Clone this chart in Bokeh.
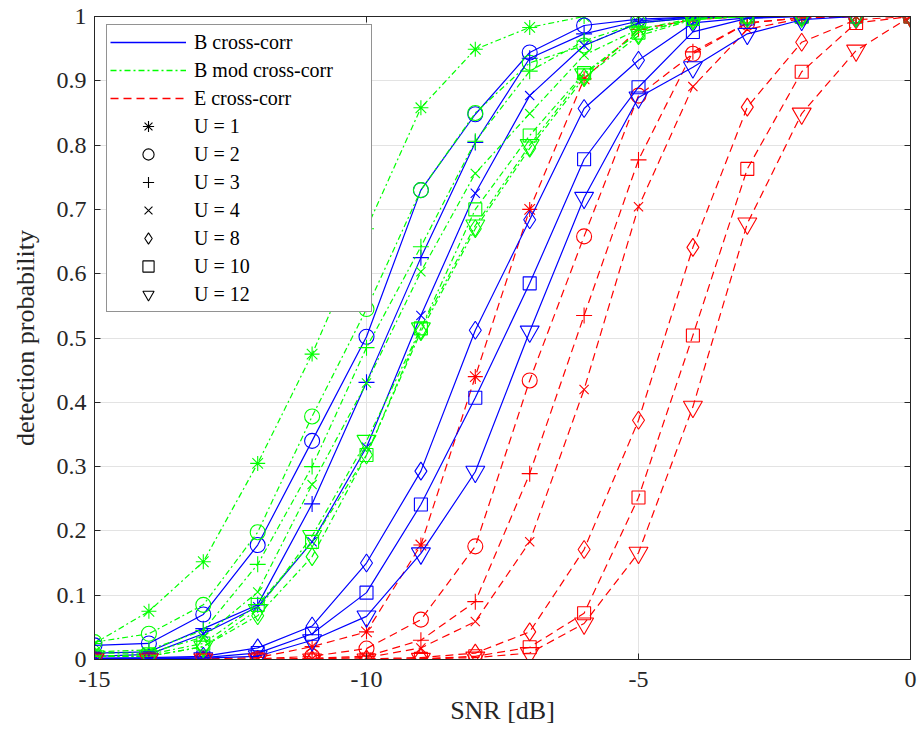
import numpy as np
from bokeh.plotting import figure
from bokeh.models import Legend, LegendItem, LinearAxis, FixedTicker, Range1d
from bokeh.embed import file_html
from bokeh.resources import INLINE

snr = [-15, -14, -13, -12, -11, -10, -9, -8, -7, -6, -5, -4, -3, -2, -1, 0]
u_labels = ["U = 1", "U = 2", "U = 3", "U = 4", "U = 8", "U = 10", "U = 12"]

# B cross-corr (no visible U = 1 curve in the reference)
b_u1 = None
b_u2 = [0.022, 0.025, 0.070, 0.178, 0.340, 0.502, 0.730, 0.848, 0.944, 0.986, 0.996, 0.999, 1.0, 1.0, 1.0, 1.0]
b_u3 = [0.010, 0.012, 0.048, 0.085, 0.242, 0.431, 0.625, 0.804, 0.935, 0.973, 0.993, 0.999, 1.0, 1.0, 1.0, 1.0]
b_u4 = [0.005, 0.008, 0.040, 0.082, 0.183, 0.330, 0.535, 0.725, 0.877, 0.955, 0.990, 0.998, 1.0, 1.0, 1.0, 1.0]
b_u8 = [0.002, 0.003, 0.005, 0.018, 0.052, 0.150, 0.293, 0.512, 0.684, 0.857, 0.932, 0.990, 0.998, 1.0, 1.0, 1.0]
b_u10 = [0.001, 0.002, 0.003, 0.010, 0.040, 0.104, 0.241, 0.407, 0.585, 0.778, 0.890, 0.976, 0.997, 1.0, 1.0, 1.0]
b_u12 = [0.001, 0.001, 0.002, 0.005, 0.030, 0.067, 0.165, 0.292, 0.510, 0.718, 0.874, 0.921, 0.973, 0.995, 1.0, 1.0]

# B mod cross-corr
m_u1 = [0.025, 0.075, 0.152, 0.305, 0.475, 0.670, 0.858, 0.949, 0.983, 1.0, 1.0, 1.0, 1.0, 1.0, 1.0, 1.0]
m_u2 = [0.027, 0.040, 0.085, 0.198, 0.378, 0.545, 0.730, 0.850, 0.928, 0.955, 0.990, 0.998, 1.0, 1.0, 1.0, 1.0]
m_u3 = [0.012, 0.015, 0.045, 0.148, 0.300, 0.485, 0.642, 0.806, 0.915, 0.962, 0.990, 0.998, 1.0, 1.0, 1.0, 1.0]
m_u4 = [0.010, 0.010, 0.035, 0.105, 0.272, 0.430, 0.603, 0.756, 0.849, 0.940, 0.980, 0.997, 1.0, 1.0, 1.0, 1.0]
m_u8 = [0.005, 0.005, 0.020, 0.068, 0.160, 0.318, 0.510, 0.670, 0.795, 0.905, 0.970, 0.995, 1.0, 1.0, 1.0, 1.0]
m_u10 = [0.005, 0.008, 0.025, 0.085, 0.183, 0.318, 0.515, 0.700, 0.815, 0.912, 0.975, 0.996, 1.0, 1.0, 1.0, 1.0]
m_u12 = [0.005, 0.005, 0.020, 0.077, 0.192, 0.340, 0.515, 0.675, 0.800, 0.910, 0.975, 0.996, 1.0, 1.0, 1.0, 1.0]

# E cross-corr
e_u1 = [0.0, 0.0, 0.001, 0.003, 0.020, 0.043, 0.178, 0.440, 0.700, 0.903, 0.980, 0.995, 1.0, 1.0, 1.0, 1.0]
e_u2 = [0.0, 0.0, 0.0, 0.001, 0.005, 0.017, 0.062, 0.176, 0.434, 0.658, 0.877, 0.942, 0.990, 0.998, 1.0, 1.0]
e_u3 = [0.0, 0.0, 0.0, 0.0, 0.002, 0.005, 0.030, 0.090, 0.289, 0.535, 0.777, 0.945, 0.990, 0.998, 1.0, 1.0]
e_u4 = [0.0, 0.0, 0.0, 0.0, 0.001, 0.003, 0.018, 0.059, 0.183, 0.420, 0.704, 0.891, 0.980, 0.997, 1.0, 1.0]
e_u8 = [0.0, 0.0, 0.0, 0.0, 0.0, 0.001, 0.003, 0.010, 0.043, 0.171, 0.372, 0.641, 0.859, 0.960, 0.995, 1.0]
e_u10 = [0.0, 0.0, 0.0, 0.0, 0.0, 0.0, 0.001, 0.005, 0.019, 0.072, 0.252, 0.504, 0.763, 0.914, 0.990, 1.0]
e_u12 = [0.0, 0.0, 0.0, 0.0, 0.0, 0.0, 0.001, 0.003, 0.010, 0.056, 0.166, 0.393, 0.678, 0.849, 0.947, 1.0]

x_ticks = [-15, -10, -5, 0]
y_ticks = [0, 0.1, 0.2, 0.3, 0.4, 0.5, 0.6, 0.7, 0.8, 0.9, 1]
y_tick_labels = ["0", "0.1", "0.2", "0.3", "0.4", "0.5", "0.6", "0.7", "0.8", "0.9", "1"]
x_tick_labels = ["-15", "-10", "-5", "0"]

families = [
    ("B cross-corr", "#0000ff", "solid", [b_u1, b_u2, b_u3, b_u4, b_u8, b_u10, b_u12]),
    ("B mod cross-corr", "#00ff00", "6 3 2 3", [m_u1, m_u2, m_u3, m_u4, m_u8, m_u10, m_u12]),
    ("E cross-corr", "#ff0000", "8 5", [e_u1, e_u2, e_u3, e_u4, e_u8, e_u10, e_u12]),
]
markers = ["asterisk", "circle", "cross", "x", "diamond", "square", "inverted_triangle"]
msizes = [15, 15, 16, 13, 18, 13, 19]

FONT = "Liberation Serif"
DARK = "#262626"

p = figure(frame_width=816, frame_height=643,
           x_range=Range1d(-15, 0), y_range=Range1d(0, 1),
           output_backend="svg", toolbar_location=None,
           min_border_left=94, min_border_top=16, min_border_right=9,
           min_border_bottom=10)
p.background_fill_color = "white"
p.outline_line_color = DARK

# data
for ui in range(7):
    for name, col, dash, series in families:
        if series[ui] is None:
            continue
        p.line(snr, series[ui], line_color=col, line_dash=dash, line_width=1.2)
        p.scatter(snr, series[ui], marker=markers[ui], size=msizes[ui],
                  line_color=col, fill_color=None, line_width=1.1)

# axes
xt = FixedTicker(ticks=x_ticks)
yt = FixedTicker(ticks=y_ticks)
p.xaxis.ticker = xt
p.yaxis.ticker = yt
p.xaxis.major_label_overrides = {t: l for t, l in zip(x_ticks, x_tick_labels)}
p.yaxis.major_label_overrides = {t: l for t, l in zip(y_ticks, y_tick_labels)}
p.xaxis.axis_label = "SNR [dB]"
p.yaxis.axis_label = "detection probability"
for ax in [p.xaxis[0], p.yaxis[0]]:
    ax.axis_line_color = DARK
    ax.major_tick_line_color = DARK
    ax.major_tick_in = 6
    ax.major_tick_out = 0
    ax.minor_tick_line_color = None
    ax.major_label_text_font = FONT
    ax.major_label_text_font_size = "24px"
    ax.major_label_text_color = DARK
    ax.axis_label_text_font = FONT
    ax.axis_label_text_font_size = "26px"
    ax.axis_label_text_font_style = "normal"
    ax.axis_label_text_color = DARK
p.xaxis.major_label_standoff = 12
p.xaxis.axis_label_standoff = 6
p.yaxis.major_label_standoff = 8
p.yaxis.axis_label_standoff = 14

for loc, tk in [("right", yt), ("above", xt)]:
    ax = LinearAxis(ticker=tk)
    ax.axis_line_color = DARK
    ax.major_tick_line_color = DARK
    ax.major_tick_in = 6
    ax.major_tick_out = 0
    ax.minor_tick_line_color = None
    ax.major_label_text_font_size = "1px"
    ax.major_label_text_color = None
    ax.major_label_standoff = 0
    p.add_layout(ax, loc)

p.xgrid.ticker = xt
p.ygrid.ticker = yt
p.xgrid.grid_line_color = "#e3e3e3"
p.ygrid.grid_line_color = "#e3e3e3"

# legend (proxy renderers with a single NaN point so only the legend shows them)
nan = np.array([np.nan])
items = []
for name, col, dash, series in families:
    r = p.line(nan, nan, line_color=col, line_dash=dash, line_width=1.4)
    items.append(LegendItem(label=name, renderers=[r]))
for ui in range(7):
    r = p.scatter(nan, nan, marker=markers[ui], size=msizes[ui],
                  line_color="black", fill_color=None, line_width=1.1)
    items.append(LegendItem(label=u_labels[ui], renderers=[r]))

legend = Legend(items=items, location=(12, 347), margin=0)
legend.label_text_font = FONT
legend.label_text_font_size = "20px"
legend.label_text_color = "black"
legend.glyph_width = 76
legend.glyph_height = 28
legend.label_height = 28
legend.label_width = 174
legend.spacing = 0
legend.padding = 3
legend.label_standoff = 8
legend.border_line_color = DARK
legend.border_line_width = 1
legend.background_fill_alpha = 1
p.add_layout(legend)

open("out.html", "w").write(file_html(p, INLINE))
